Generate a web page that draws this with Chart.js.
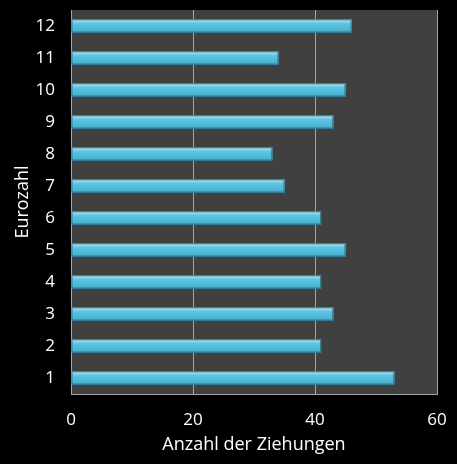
<!DOCTYPE html>
<html>
<head>
<meta charset="utf-8">
<script src="https://cdn.jsdelivr.net/npm/chart.js@4.4.1/dist/chart.umd.min.js"></script>
<style>
  html, body { margin: 0; padding: 0; background: #000; }
  #wrap { width: 457px; height: 464px; }
</style>
</head>
<body>
<div id="wrap"><canvas id="barChart" width="457" height="464"></canvas></div>
<script>
// Eurozahl 1..12 (von unten nach oben)
const eurozahlen = ["1", "2", "3", "4", "5", "6", "7", "8", "9", "10", "11", "12"];
const ziehungen = [53, 41, 43, 41, 45, 41, 35, 33, 43, 45, 34, 46];
const xTicks = [0, 20, 40, 60];

// dunkelgraue Plotfläche
const plotBackground = {
  id: "plotBackground",
  beforeDraw(chart) {
    const { ctx, chartArea } = chart;
    ctx.save();
    ctx.fillStyle = "#404040";
    ctx.fillRect(chartArea.left, chartArea.top, chartArea.width, chartArea.height);
    ctx.restore();
  },
};

// Glanzeffekt auf den Balken
const barShine = {
  id: "barShine",
  afterDatasetsDraw(chart) {
    const ctx = chart.ctx;
    chart.getDatasetMeta(0).data.forEach((bar) => {
      const top = bar.y - bar.height / 2;
      const left = Math.min(bar.base, bar.x);
      const w = Math.abs(bar.x - bar.base);
      const g = ctx.createLinearGradient(0, top, 0, top + bar.height);
      g.addColorStop(0, "#6cc9e2");
      g.addColorStop(0.12, "#9fe2f4");
      g.addColorStop(0.3, "#62c3df");
      g.addColorStop(0.8, "#4db6d5");
      g.addColorStop(1, "#3a94ae");
      ctx.save();
      ctx.fillStyle = g;
      ctx.fillRect(left, top, w, bar.height);
      ctx.strokeStyle = "#2b7690";
      ctx.lineWidth = 1;
      ctx.strokeRect(left + 0.5, top + 0.5, w - 1, bar.height - 1);
      ctx.restore();
    });
  },
};

const ctx = document.getElementById("barChart").getContext("2d");
new Chart(ctx, {
  type: "bar",
  data: {
    labels: eurozahlen,
    datasets: [
      {
        label: "Anzahl der Ziehungen",
        data: ziehungen,
        backgroundColor: "#4bacc6",
        borderWidth: 0,
        categoryPercentage: 1,
        barPercentage: 0.42,
      },
    ],
  },
  options: {
    indexAxis: "y",
    responsive: false,
    animation: false,
    layout: { padding: { left: 0, right: 20, top: 10, bottom: 0 } },
    plugins: {
      legend: { display: false },
      tooltip: { enabled: false },
    },
    scales: {
      x: {
        min: 0,
        max: 60,
        afterBuildTicks: (axis) => {
          axis.ticks = xTicks.map((v) => ({ value: v }));
        },
        afterFit: (scale) => {
          scale.height = 70;
          scale.paddingLeft = 0;
          scale.paddingRight = 0;
        },
        grid: { color: "#a6a6a6", lineWidth: 1, drawTicks: false },
        border: { display: true, color: "#a6a6a6" },
        ticks: {
          color: "#ffffff",
          padding: 16,
          font: { family: "Open Sans", size: 17 },
        },
        title: {
          display: true,
          text: "Anzahl der Ziehungen",
          color: "#ffffff",
          padding: { top: 4, bottom: 8 },
          font: { family: "Open Sans", size: 18 },
        },
      },
      y: {
        reverse: true,
        afterFit: (scale) => {
          scale.width = 71;
          scale.paddingTop = 0;
          scale.paddingBottom = 0;
        },
        grid: { display: false, drawTicks: false },
        border: { display: true, color: "#a6a6a6" },
        ticks: {
          color: "#ffffff",
          padding: 16,
          font: { family: "Open Sans", size: 17 },
        },
        title: {
          display: true,
          text: "Eurozahl",
          color: "#ffffff",
          padding: { top: 12, bottom: 0 },
          font: { family: "Open Sans", size: 18 },
        },
      },
    },
  },
  plugins: [plotBackground, barShine],
});
</script>
</body>
</html>
